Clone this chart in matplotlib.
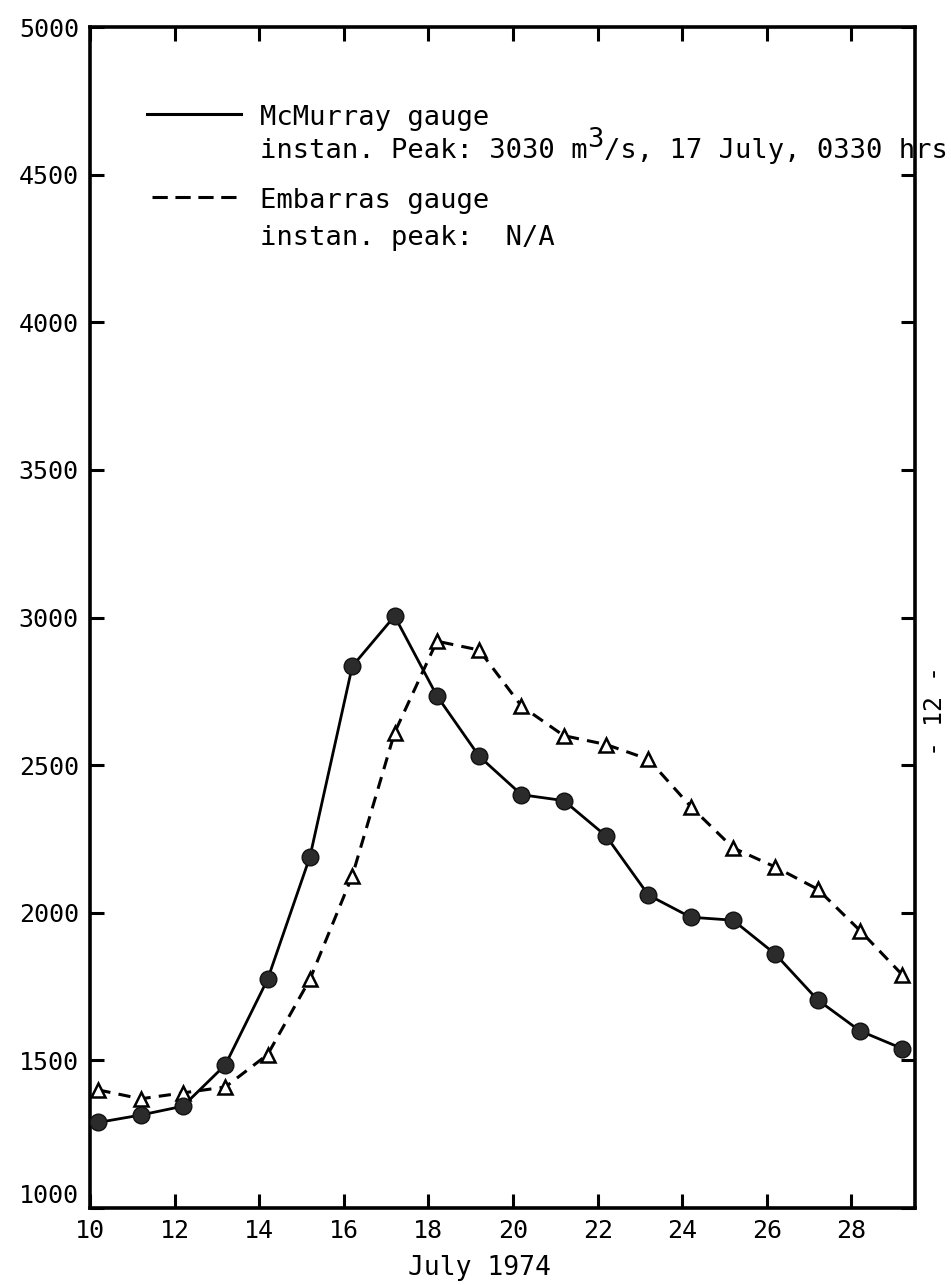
"""Daily discharge at the McMurray and Embarras gauges, July 1974 flood.

Draws both hydrographs on one frame with a typewriter-style legend
block in the upper left, the way the report figure lays it out.
"""

import numpy as np
import matplotlib
matplotlib.use("Agg")
import matplotlib.pyplot as plt

FONT = "DejaVu Sans Mono"

# Daily mean discharge (m3/s), 10 - 29 July 1974.
DAYS = list(range(10, 30))
MCMURRAY = [1290, 1315, 1345, 1485, 1775, 2190, 2835, 3005, 2735, 2530,
            2400, 2380, 2260, 2060, 1985, 1975, 1860, 1705, 1600, 1540]
EMBARRAS = [1400, 1370, 1390, 1410, 1520, 1775, 2125, 2610, 2920, 2890,
            2700, 2600, 2570, 2520, 2360, 2220, 2155, 2080, 1940, 1790]

X_TICKS = list(range(10, 30, 2))
Y_TICKS = list(range(1000, 5001, 500))

MCMURRAY_LABEL = "McMurray gauge"
MCMURRAY_PEAK = ("instan. Peak: 3030 m", "3", "/s, 17 July, 0330 hrs")
EMBARRAS_LABEL = "Embarras gauge"
EMBARRAS_PEAK = "instan. peak:  N/A"


def main() -> None:
    plt.rcParams["font.family"] = [FONT, "DejaVu Sans"]

    fig = plt.figure(figsize=(9.51, 12.85), dpi=100)
    ax = fig.add_axes([0.0946, 0.0599, 0.8675, 0.919])

    # daily means sit a little past the date tick
    x = np.array(DAYS) + 0.2

    ax.plot(x, EMBARRAS, color="black", lw=2.2, ls=(0, (4, 2.7)),
            marker="^", ms=10, mfc="white", mec="black", mew=1.8,
            clip_on=False, zorder=3)
    ax.plot(x, MCMURRAY, color="black", lw=2.0, ls="-",
            marker="o", ms=12, mfc="#2b2b2b", mec="#111111", mew=1,
            clip_on=False, zorder=4)

    ax.set_xlim(10, 29.5)
    ax.set_ylim(1000, 5000)
    ax.set_xticks(X_TICKS)
    ax.set_yticks(Y_TICKS)
    ax.tick_params(direction="in", length=10, width=2.2, top=True,
                   right=True, labelsize=18, pad=8)
    for s in ax.spines.values():
        s.set_linewidth(2.6)

    # lowest label is lifted so it clears the date labels
    ax.get_yticklabels()[0].set_va("bottom")

    ax.set_xlabel("July 1974", fontsize=19)
    ax.xaxis.set_label_coords(0.472, -0.04)

    # --- legend block ----------------------------------------------------
    tr = ax.transAxes
    ax.plot([0.069, 0.183], [0.9263, 0.9263], color="black", lw=2.2,
            transform=tr)
    ax.plot([0.075, 0.182], [0.8563, 0.8563], color="black", lw=2.2,
            ls=(0, (5, 2.5)), transform=tr)

    fs = 19.5
    ax.text(0.206, 0.917, MCMURRAY_LABEL, fontsize=fs, va="baseline",
            transform=tr)
    t1 = ax.text(0.206, 0.889, MCMURRAY_PEAK[0], fontsize=fs,
                 va="baseline", transform=tr)
    t2 = ax.annotate(MCMURRAY_PEAK[1], xy=(1, 0), xycoords=t1,
                     xytext=(0, 8), textcoords="offset points",
                     fontsize=fs, va="bottom", ha="left")
    ax.annotate(MCMURRAY_PEAK[2], xy=(1, 0), xycoords=(t2, t1),
                fontsize=fs, va="bottom", ha="left", annotation_clip=False)

    ax.text(0.206, 0.8467, EMBARRAS_LABEL, fontsize=fs, va="baseline",
            transform=tr)
    ax.text(0.206, 0.8154, EMBARRAS_PEAK, fontsize=fs, va="baseline",
            transform=tr)

    # page number in the margin
    fig.text(0.983, 0.4467, "- 12 -", rotation=90, fontsize=18,
             ha="center", va="center")

    fig.savefig("out.png", dpi=100)
    plt.close(fig)


if __name__ == "__main__":
    main()
